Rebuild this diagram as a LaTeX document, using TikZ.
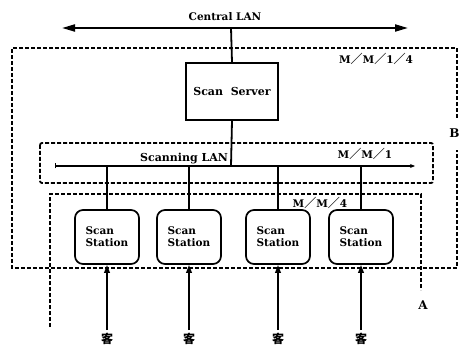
\documentclass[tikz,border=0pt]{standalone}
\usepackage{fontspec}
\setmainfont{DejaVu Serif}
\newfontfamily\cjk{Noto Sans CJK SC}
\usetikzlibrary{arrows.meta}
\newcommand{\fsl}{{\cjk\fontsize{12}{12}\selectfont ／}}
\tikzset{
  dashbox/.style={line width=1.8pt, dash pattern=on 4pt off 2pt},
  lan/.style={line width=2pt},
  conn/.style={line width=1.8pt},
  srv/.style={draw, line width=1.5pt, minimum width=92pt, minimum height=57pt, inner sep=0pt},
  station/.style={draw, line width=1.7pt, rounded corners=8pt, minimum width=64pt, minimum height=54pt, inner sep=0pt, align=left, font=\bfseries\fontsize{10.5}{12}\selectfont},
  lbl/.style={inner sep=0pt, font=\bfseries\fontsize{10.5}{12}\selectfont},
  big/.style={inner sep=1pt, font=\bfseries\fontsize{12}{14}\selectfont},
  cust/.style={inner sep=0pt, font=\cjk\bfseries\fontsize{12}{12}\selectfont},
}
\begin{document}
\begin{tikzpicture}[x=1pt,y=-1pt]
\useasboundingbox (0,0) rectangle (462,347);
% Central LAN
\coordinate (cl) at (62,28);
\coordinate (cr) at (408,28);
\coordinate (cm) at (231,28);
\draw[lan, {Triangle[length=13pt,width=7pt]}-{Triangle[length=13pt,width=7pt]}] (cl) -- (cr);
\node[lbl] (centrallan) at (225,17) {Central LAN};
% outer dashed box B
\draw[dashbox] (457,118) -- (457,48) -- (12,48) -- (12,268) -- (457,268) -- (457,150);
\node[big] (B) at (454.5,133) {B};
\node[lbl] (mm14) at (376,59) {M\fsl M\fsl 1\fsl 4};
% Scan Server
\node[srv] (server) at (232,91.5) {\bfseries\fontsize{11}{12}\selectfont Scan\ \ Server};
\draw[conn] (cm) -- (server.north);
% Scanning LAN dashed box
\draw[dashbox, rounded corners=2pt] (40,143) rectangle (433,183);
\node[lbl] (mm1) at (365,154) {M\fsl M\fsl 1};
\node[lbl, font=\bfseries\fontsize{11}{12}\selectfont] (scanlan) at (184,159) {Scanning\ LAN};
\coordinate (sl) at (55,166);
\coordinate (sr) at (415,166);
\coordinate (sm) at (231,166);
\draw[conn, {Bar[width=5pt,line width=1pt]}-{Stealth[length=5pt,width=4pt]}] (sl) -- (sr);
\draw[conn] (server.south) -- (sm);
% M/M/4 box
\draw[dashbox] (50,327) -- (50,194) -- (421,194) -- (421,290);
\node[lbl] (mm4) at (320,203) {M\fsl M\fsl 4};
\node[big] (A) at (423,305) {A};
% stations
\foreach \i/\x in {1/107,2/189,3/278,4/361}{
  \node[station] (st\i) at (\x,237) {Scan\\Station};
  \coordinate (top\i) at (\x,166);
  \draw[conn] (top\i) -- (st\i.north);
  \node[cust] (c\i) at (\x,339) {客};
  \coordinate (bot\i) at (\x,330);
  \draw[conn, -{Triangle[length=8pt,width=5.5pt]}] (bot\i) -- (st\i.south);
}
\end{tikzpicture}
\end{document}
